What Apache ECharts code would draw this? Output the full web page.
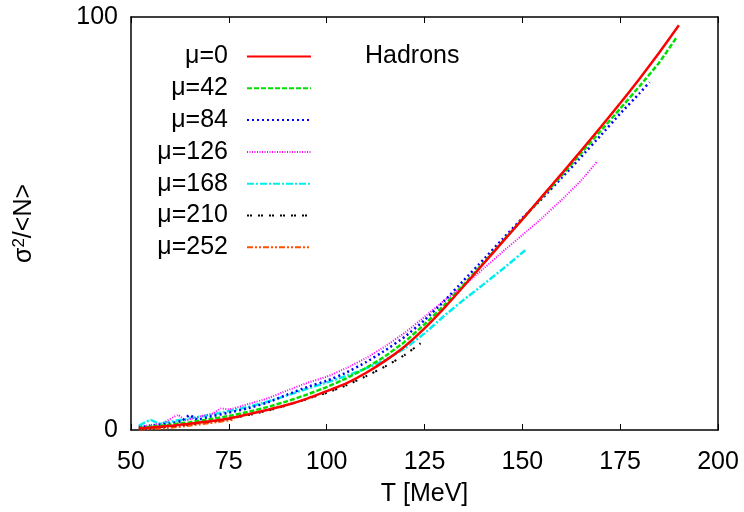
<!DOCTYPE html>
<html>
<head>
<meta charset="utf-8">
<script src="https://cdn.jsdelivr.net/npm/echarts@6/dist/echarts.min.js"></script>
<style>html,body{margin:0;padding:0;background:#fff}#c{width:744px;height:512px}</style>
</head>
<body>
<div id="c"></div>
<script>
// ---- data ----
const xTicks = [50, 75, 100, 125, 150, 175, 200];
const yTicks = [0, 100];
const seriesNames = ['μ=0', 'μ=42', 'μ=84', 'μ=126', 'μ=168', 'μ=210', 'μ=252'];

const T_mu0 = [52,55,60,65,70,75,80,85,90,95,100,105,110,115,120,125,130,135,140,145,150,155,160,165,170,175,180,185,190];
const V_mu0 = [0.4,0.6,1.0,1.5,2.1,2.8,3.8,4.9,6.1,7.6,9.4,11.3,13.8,16.8,20.3,24.6,29.5,34.8,40.2,45.6,51.0,56.5,62.0,67.6,73.3,79.1,85.1,91.4,98.0];

const T_mu42 = [52,55,60,65,70,75,80,85,90,95,100,105,110,115,120,125,130,135,140,145,150,155,160,165,170,175,180,185,189.5];
const V_mu42 = [0.5,0.8,1.3,1.9,2.6,3.4,4.4,5.6,7.0,8.6,10.4,12.5,15.0,17.9,21.4,25.6,30.2,35.2,40.4,45.7,51.0,56.3,61.6,67.0,72.4,77.8,83.3,89.0,95.2];

const T_mu84 = [52,55,60,63,65,67,70,75,80,85,90,95,100,105,110,115,120,125,130,135,140,145,150,155,160,165,170,175,180,182.5];
const V_mu84 = [0.6,1.0,1.6,2.2,3.6,2.5,3.2,4.2,5.3,6.7,8.6,10.4,11.9,13.9,16.4,19.3,22.6,26.6,31.2,36.2,41.2,46.3,51.3,56.0,61.0,66.1,71.3,76.6,81.6,84.2];

const T_mu126 = [52,55,58,62,64,68,71,73,75,80,85,90,95,100,105,110,115,120,125,130,135,140,145,150,155,160,165,169];
const V_mu126 = [0.8,1.2,1.6,3.6,2.4,3.4,4.0,5.2,5.0,6.3,7.7,9.6,11.4,12.9,15.0,17.4,20.3,23.6,27.4,31.3,35.0,39.0,43.2,47.2,51.3,55.7,60.4,64.9];

const T_mu168 = [52,55,57,60,65,70,75,80,85,90,95,100,105,110,115,120,125,130,135,140,145,151];
const V_mu168 = [1.0,2.4,1.6,2.0,2.8,3.6,4.6,5.6,6.9,8.4,10.0,11.5,13.1,14.9,17.0,19.8,23.4,27.6,31.5,35.2,39.0,43.7];

const T_mu210 = [52,55,60,65,70,75,80,85,90,95,100,105,110,115,120,124];
const V_mu210 = [0.3,0.5,0.9,1.4,2.0,2.7,3.6,4.7,6.0,7.5,9.0,10.8,13.0,15.4,18.2,21.0];

const T_mu252 = [52,55,60,65,70,76.5];
const V_mu252 = [0.2,0.3,0.6,1.1,1.7,2.6];

const allT = [T_mu0, T_mu42, T_mu84, T_mu126, T_mu168, T_mu210, T_mu252];
const allV = [V_mu0, V_mu42, V_mu84, V_mu126, V_mu168, V_mu210, V_mu252];

// ---- styles ----
const colors = ['#ff0000', '#00e000', '#0000ff', '#ff00ff', '#00eeee', '#000000', '#ff5000'];
const dashes = ['solid', [5, 2], [2, 3], [1, 1.5], [7, 2, 2, 2], [2, 1, 2, 6], [6, 2, 2, 2, 2, 2]];
const widths = [2.5, 2.5, 2.5, 2, 2.5, 2, 2.5];

const FONT = 'Liberation Sans, Arial, sans-serif';
const FS = 25;

const series = seriesNames.map((name, i) => ({
  name: name,
  type: 'line',
  xAxisIndex: 0,
  yAxisIndex: 0,
  showSymbol: false,
  symbol: 'none',
  smooth: 0.15,
  data: allT[i].map((t, k) => [t, allV[i][k]]),
  lineStyle: { color: colors[i], width: widths[i], type: dashes[i] },
  itemStyle: { color: colors[i] },
  z: 10 - i
}));

const chart = echarts.init(document.getElementById('c'), null, { renderer: 'canvas' });
chart.setOption({
  animation: false,
  backgroundColor: '#fff',
  grid: { left: 131, top: 17, right: 26, bottom: 78, containLabel: false },
  legend: {
    orient: 'vertical',
    right: 432,
    top: 44,
    align: 'right',
    itemWidth: 64,
    itemHeight: 14,
    itemGap: 6.8,
    padding: 0,
    itemStyle: { opacity: 0 },
    textStyle: { fontSize: FS, fontFamily: FONT, color: '#000', padding: [0, 14, 0, 0] },
    data: seriesNames
  },
  xAxis: [{
    type: 'value', min: 50, max: 200, interval: 25,
    position: 'bottom',
    name: 'T [MeV]', nameLocation: 'middle', nameGap: 52,
    nameTextStyle: { fontSize: FS, fontFamily: FONT, color: '#000' },
    axisLine: { onZero: false, lineStyle: { color: '#000', width: 1.5 } },
    axisTick: { inside: true, length: 6, lineStyle: { color: '#000' } },
    axisLabel: { fontSize: FS, fontFamily: FONT, color: '#000', margin: 20, formatter: v => xTicks.includes(v) ? String(v) : '' },
    splitLine: { show: false }
  }, {
    type: 'value', min: 50, max: 200, interval: 25,
    position: 'top',
    axisLine: { onZero: false, lineStyle: { color: '#000', width: 1.5 } },
    axisTick: { inside: true, length: 6, lineStyle: { color: '#000' } },
    axisLabel: { show: false },
    splitLine: { show: false }
  }],
  yAxis: [{
    type: 'value', min: 0, max: 100, interval: 100,
    position: 'left',
    name: '{s|σ}{sup|2}{s|/<N>}', nameLocation: 'middle', nameGap: 93, nameRotate: 90,
    nameTextStyle: { fontSize: FS, fontFamily: FONT, color: '#000',
      rich: { s: { fontSize: FS, fontFamily: FONT, color: '#000' }, sup: { fontSize: 17, fontFamily: FONT, color: '#000', verticalAlign: 'top', padding: [0, 0, 10, 0] } } },
    axisLine: { onZero: false, lineStyle: { color: '#000', width: 1.5 } },
    axisTick: { show: false },
    axisLabel: { fontSize: FS, fontFamily: FONT, color: '#000', margin: 13, formatter: v => yTicks.includes(v) ? String(v) : '' },
    splitLine: { show: false }
  }, {
    type: 'value', min: 0, max: 100, interval: 100,
    position: 'right',
    axisLine: { onZero: false, lineStyle: { color: '#000', width: 1.5 } },
    axisTick: { show: false },
    axisLabel: { show: false },
    splitLine: { show: false }
  }],
  graphic: [{
    type: 'text', left: 365, top: 44,
    style: { text: 'Hadrons', fontSize: FS, fontFamily: FONT, fill: '#000' }
  }],
  series: series
});
</script>
</body>
</html>
